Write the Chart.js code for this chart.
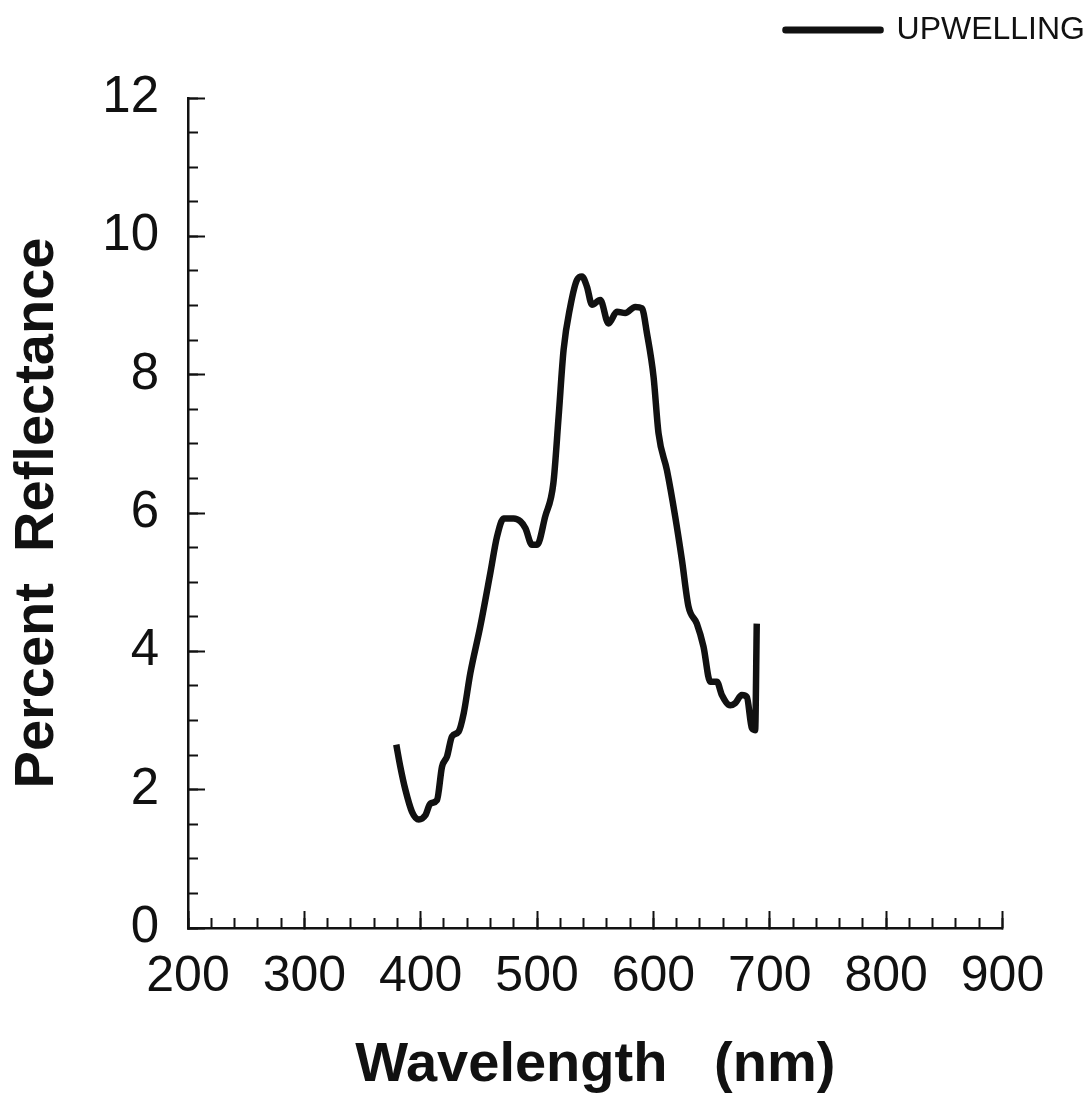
<!DOCTYPE html>
<html lang="en">

<head>
    <meta charset="UTF-8">
    <title>Upwelling Reflectance</title>
    <script src="https://cdn.jsdelivr.net/npm/chart.js"></script>
    <style>
        body {
            margin: 0;
            background: #ffffff;
        }

        #chart-container {
            width: 1091px;
            height: 1097px;
        }
    </style>
</head>

<body>
    <div id="chart-container">
        <canvas id="reflectanceChart"></canvas>
    </div>

    <script>
        // values
        const wavelength = [379, 382.5, 386.8, 392.5, 398.3, 404, 408.3, 414, 418.3, 422.6, 426.9, 432.6, 436.9, 442.6,
            451.2, 459.8, 465.6, 471.3, 479.9, 485.6, 490, 495.6, 500, 507, 514, 518.5, 522.8, 528.5, 534.3, 538.6,
            542.9, 547.2, 554.3, 561.4, 568.6, 575.8, 584.4, 590.1, 594.4, 600.1, 604.4, 611.6, 618.7, 624.5, 630.1,
            637.3, 643, 648.8, 654.5, 658.8, 666, 670.2, 676, 680.3, 684.6, 687.4, 688.8];
        const reflectance = [2.65, 2.33, 2.0, 1.68, 1.57, 1.63, 1.8, 1.85, 2.33, 2.48, 2.77, 2.84, 3.1, 3.68,
            4.36, 5.13, 5.66, 5.92, 5.92, 5.88, 5.78, 5.54, 5.54, 5.95, 6.43, 7.39, 8.36, 8.98, 9.37, 9.42,
            9.27, 9.01, 9.08, 8.74, 8.91, 8.89, 8.98, 8.96, 8.6, 7.97, 7.15, 6.62, 5.95, 5.32, 4.65,
            4.4, 4.07, 3.56, 3.56, 3.37, 3.22, 3.25, 3.37, 3.34, 2.89, 2.86, 4.4];
        const seriesLabel = 'UPWELLING';
        const xTicks = [200, 300, 400, 500, 600, 700, 800, 900];
        const yTicks = [0, 2, 4, 6, 8, 10, 12];
        const xMinorStep = 20;
        const yMinorStep = 0.5;

        const ink = '#111111';
        const fontFamily = "'Liberation Sans', Arial, Helvetica, sans-serif";

        const ctx = document.getElementById('reflectanceChart').getContext('2d');

        const chart = new Chart(ctx, {
            type: 'line',
            data: {
                datasets: [
                    {
                        label: seriesLabel,
                        data: wavelength.map((w, i) => ({ x: w, y: reflectance[i] })),
                        borderColor: ink,
                        backgroundColor: ink,
                        borderWidth: 6.5,
                        pointRadius: 0,
                        cubicInterpolationMode: 'monotone',
                        borderJoinStyle: 'round',
                        fill: false,
                    },
                ],
            },
            options: {
                responsive: true,
                maintainAspectRatio: false,
                animation: false,
                layout: {
                    padding: { top: 8, right: 0, bottom: 0, left: 0 },
                },
                scales: {
                    x: {
                        type: 'linear',
                        position: 'bottom',
                        min: xTicks[0],
                        max: xTicks[xTicks.length - 1],
                        afterBuildTicks: (axis) => { axis.ticks = xTicks.map(v => ({ value: v })); },
                        afterFit: (axis) => { axis.height = 169; },
                        ticks: {
                            autoSkip: false,
                            maxRotation: 0,
                            padding: 36,
                            color: ink,
                            font: { family: fontFamily, size: 50 },
                        },
                        grid: {
                            drawOnChartArea: false,
                            tickLength: -17,
                            tickWidth: 2,
                            tickColor: ink,
                        },
                        border: { color: ink, width: 2.5 },
                        title: {
                            display: true,
                            text: 'Wavelength   (nm)',
                            color: ink,
                            font: { family: fontFamily, size: 56, weight: 'bold', lineHeight: 1 },
                            padding: { top: 0, bottom: 3 },
                        },
                    },
                    xMinor: {
                        type: 'linear',
                        position: { y: 0 },
                        min: xTicks[0],
                        max: xTicks[xTicks.length - 1],
                        ticks: { stepSize: xMinorStep, display: false },
                        grid: {
                            drawOnChartArea: false,
                            tickLength: -10,
                            tickWidth: 2,
                            tickColor: ink,
                        },
                        border: { display: false },
                    },
                    y: {
                        type: 'linear',
                        position: 'left',
                        min: yTicks[0],
                        max: yTicks[yTicks.length - 1],
                        afterBuildTicks: (axis) => { axis.ticks = yTicks.map(v => ({ value: v })); },
                        afterFit: (axis) => { axis.width = 188; },
                        ticks: {
                            padding: 46,
                            color: ink,
                            font: { family: fontFamily, size: 51 },
                        },
                        grid: {
                            drawOnChartArea: false,
                            tickLength: -17,
                            tickWidth: 2,
                            tickColor: ink,
                        },
                        border: { color: ink, width: 2.5 },
                        title: {
                            display: true,
                            text: 'Percent  Reflectance',
                            color: ink,
                            font: { family: fontFamily, size: 56, weight: 'bold', lineHeight: 1 },
                            padding: { top: 10, bottom: 0 },
                        },
                    },
                    yMinor: {
                        type: 'linear',
                        position: { x: xTicks[0] },
                        min: yTicks[0],
                        max: yTicks[yTicks.length - 1],
                        ticks: { stepSize: yMinorStep, display: false },
                        grid: {
                            drawOnChartArea: false,
                            tickLength: -10,
                            tickWidth: 2,
                            tickColor: ink,
                        },
                        border: { display: false },
                    },
                    // empty axes that only reserve space around the plot
                    padTop: {
                        type: 'linear',
                        position: 'top',
                        ticks: { display: false },
                        grid: { display: false },
                        border: { display: false },
                        afterFit: (axis) => { axis.height = 42; },
                    },
                    padRight: {
                        type: 'linear',
                        position: 'right',
                        ticks: { display: false },
                        grid: { display: false },
                        border: { display: false },
                        afterFit: (axis) => { axis.width = 88.5; },
                    },
                },
                plugins: {
                    legend: {
                        display: true,
                        position: 'top',
                        align: 'end',
                        labels: {
                            color: ink,
                            boxWidth: 95,
                            boxHeight: 0.5,
                            padding: 6,
                            font: { family: fontFamily, size: 32 },
                        },
                    },
                    tooltip: { enabled: false },
                },
            },
        });
    </script>
</body>

</html>
